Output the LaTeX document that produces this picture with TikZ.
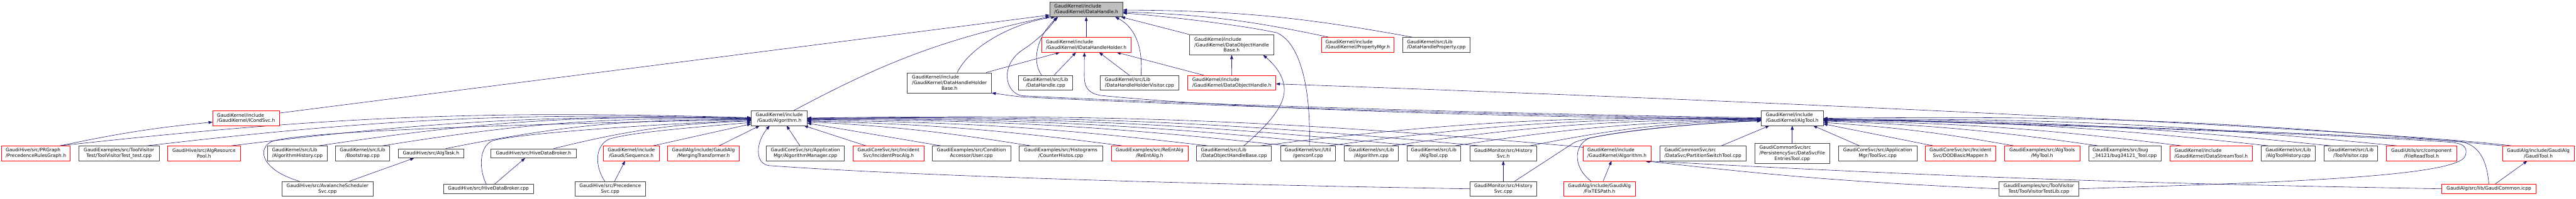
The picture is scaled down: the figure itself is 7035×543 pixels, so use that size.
\documentclass[tikz,border=0pt]{standalone}
\usepackage{fontspec}
\usepackage{tikz}
\usetikzlibrary{arrows.meta,backgrounds}
\newfontfamily\dxfont{DejaVu Sans}
\definecolor{dxedge}{HTML}{191970}
\definecolor{dxline}{HTML}{404040}
\definecolor{dxroot}{HTML}{BFBFBF}
\definecolor{dxtrunc}{HTML}{FF0000}
\tikzset{
  hdr/.style={rectangle,draw=dxline,line width=1pt,fill=white,inner sep=0pt,
              align=left,font=\dxfont\fontsize{12.8pt}{15pt}\selectfont,text=black},
  hdrtrunc/.style={hdr,draw=dxtrunc},
  hdrroot/.style={hdr,fill=dxroot},
  one/.style={minimum height=25pt},
  two/.style={minimum height=40.5pt},
  three/.style={minimum height=55pt},
  incl/.style={-{Triangle[length=11pt,width=8pt]},line width=1pt,draw=dxedge},
}

\begin{document}
\begin{tikzpicture}[x=1pt,y=-1pt]
  \useasboundingbox (0,0) rectangle (7035,543);
  % root and upper levels
  \node[hdrroot,two,minimum width=199pt] (dh) at (2966.5,25.5) {GaudiKernel/include\\\hfil/GaudiKernel/DataHandle.h};
  \node[hdrtrunc,two,minimum width=245pt] (idhh) at (2966.5,122.5) {GaudiKernel/include\\\hfil/GaudiKernel/IDataHandleHolder.h};
  \node[hdr,three,minimum width=229pt] (dohb) at (3363.5,122.5) {GaudiKernel/include\\/GaudiKernel/DataObjectHandle\\\hfil Base.h};
  \node[hdrtrunc,two,minimum width=198pt] (pmgr) at (3708,122.5) {GaudiKernel/include\\\hfil/GaudiKernel/PropertyMgr.h};
  \node[hdr,two,minimum width=183pt] (dhprop) at (3922.5,122.5) {GaudiKernel/src/Lib\\\hfil/DataHandleProperty.cpp};
  \node[hdr,three,minimum width=230pt] (dhhb) at (2593,226.5) {GaudiKernel/include\\/GaudiKernel/DataHandleHolder\\\hfil Base.h};
  \node[hdr,two,minimum width=147pt] (dhcpp) at (2855.5,226.5) {GaudiKernel/src/Lib\\\hfil/DataHandle.cpp};
  \node[hdr,two,minimum width=215pt] (dhhv) at (3112,226.5) {GaudiKernel/src/Lib\\\hfil/DataHandleHolderVisitor.cpp};
  \node[hdrtrunc,two,minimum width=240pt] (doh) at (3364,226.5) {GaudiKernel/include\\\hfil/GaudiKernel/DataObjectHandle.h};
  \node[hdrtrunc,two,minimum width=182pt] (icond) at (672,323) {GaudiKernel/include\\\hfil/GaudiKernel/ICondSvc.h};
  \node[hdr,two,minimum width=152pt] (galg) at (2128,323) {GaudiKernel/include\\\hfil/Gaudi/Algorithm.h};
  \node[hdr,two,minimum width=169pt] (algtool) at (4894.5,323) {GaudiKernel/include\\\hfil/GaudiKernel/AlgTool.h};
  % first row of includers
  \node[hdrtrunc,two,minimum width=187pt] (prg) at (98,419.5) {GaudiHive/src/PRGraph\\\hfil/PrecedenceRulesGraph.h};
  \node[hdr,two,minimum width=219pt] (tvtt) at (325,419.5) {GaudiExamples/src/ToolVisitor\\\hfil Test/ToolVisitorTest\_test.cpp};
  \node[hdrtrunc,two,minimum width=198pt] (arp) at (557,419.5) {GaudiHive/src/AlgResource\\\hfil Pool.h};
  \node[hdr,two,minimum width=163pt] (ahist) at (812,419.5) {GaudiKernel/src/Lib\\\hfil/AlgorithmHistory.cpp};
  \node[hdr,two,minimum width=147pt] (boot) at (990,419.5) {GaudiKernel/src/Lib\\\hfil/Bootstrap.cpp};
  \node[hdr,one,minimum width=179pt] (atask) at (1177,419.5) {GaudiHive/src/AlgTask.h};
  \node[hdr,one,minimum width=232pt] (hdbh) at (1457,419.5) {GaudiHive/src/HiveDataBroker.h};
  \node[hdrtrunc,two,minimum width=153pt] (seq) at (1724,419.5) {GaudiKernel/include\\\hfil/Gaudi/Sequence.h};
  \node[hdrtrunc,two,minimum width=195pt] (mtr) at (1921,419.5) {GaudiAlg/include/GaudiAlg\\\hfil/MergingTransformer.h};
  \node[hdr,two,minimum width=213pt] (amgr) at (2199.5,419.5) {GaudiCoreSvc/src/Application\\\hfil Mgr/AlgorithmManager.cpp};
  \node[hdrtrunc,two,minimum width=193pt] (ipa) at (2426.5,419.5) {GaudiCoreSvc/src/Incident\\\hfil Svc/IncidentProcAlg.h};
  \node[hdr,two,minimum width=213.5pt] (user) at (2653,419.5) {GaudiExamples/src/Condition\\\hfil Accessor/User.cpp};
  \node[hdr,two,minimum width=227pt] (chist) at (2897,419.5) {GaudiExamples/src/Histograms\\\hfil/CounterHistos.cpp};
  \node[hdrtrunc,two,minimum width=210pt] (reent) at (3139.5,419.5) {GaudiExamples/src/ReEntAlg\\\hfil/ReEntAlg.h};
  \node[hdr,two,minimum width=204.5pt] (dohbcpp) at (3370,419.5) {GaudiKernel/src/Lib\\\hfil/DataObjectHandleBase.cpp};
  \node[hdr,two,minimum width=150.5pt] (genconf) at (3572,419.5) {GaudiKernel/src/Util\\\hfil/genconf.cpp};
  \node[hdr,two,minimum width=148pt] (algcpp) at (3745,419.5) {GaudiKernel/src/Lib\\\hfil/Algorithm.cpp};
  \node[hdr,two,minimum width=147pt] (atcpp) at (3915.5,419.5) {GaudiKernel/src/Lib\\\hfil/AlgTool.cpp};
  \node[hdr,two,minimum width=183pt] (hsvch) at (4105.5,419.5) {GaudiMonitor/src/History\\\hfil Svc.h};
  \node[hdrtrunc,two,minimum width=185.5pt] (kalg) at (4416,419.5) {GaudiKernel/include\\\hfil/GaudiKernel/Algorithm.h};
  \node[hdr,two,minimum width=235pt] (pstool) at (4650.5,419.5) {GaudiCommonSvc/src\\\hfil/DataSvc/PartitionSwitchTool.cpp};
  \node[hdr,three,minimum width=204.6pt] (dsfet) at (4894.5,419.7) {GaudiCommonSvc/src\\/PersistencySvc/DataSvcFile\\\hfil EntriesTool.cpp};
  \node[hdr,two,minimum width=214pt] (toolsvc) at (5128,419.5) {GaudiCoreSvc/src/Application\\\hfil Mgr/ToolSvc.cpp};
  \node[hdrtrunc,two,minimum width=193pt] (dod) at (5354,419.5) {GaudiCoreSvc/src/Incident\\\hfil Svc/DODBasicMapper.h};
  \node[hdrtrunc,two,minimum width=205.5pt] (mytool) at (5577,419.5) {GaudiExamples/src/AlgTools\\\hfil/MyTool.h};
  \node[hdr,two,minimum width=198pt] (bug) at (5802.5,419.5) {GaudiExamples/src/bug\\\hfil\_34121/bug34121\_Tool.cpp};
  \node[hdrtrunc,two,minimum width=225.4pt] (dstool) at (6038.5,419.5) {GaudiKernel/include\\\hfil/GaudiKernel/DataStreamTool.h};
  \node[hdr,two,minimum width=146.5pt] (athist) at (6249,419.5) {GaudiKernel/src/Lib\\\hfil/AlgToolHistory.cpp};
  \node[hdr,two,minimum width=146.5pt] (tvis) at (6420,419.5) {GaudiKernel/src/Lib\\\hfil/ToolVisitor.cpp};
  \node[hdrtrunc,two,minimum width=191pt] (frt) at (6613,419.5) {GaudiUtils/src/component\\\hfil/FileReadTool.h};
  \node[hdrtrunc,two,minimum width=195pt] (gtool) at (6932,419.5) {GaudiAlg/include/GaudiAlg\\\hfil/GaudiTool.h};
  % second row of includers
  \node[hdr,two,minimum width=249pt] (ava) at (894.5,516.5) {GaudiHive/src/AvalancheScheduler\\\hfil Svc.cpp};
  \node[hdr,one,minimum width=247pt] (hdbcpp) at (1334,516.5) {GaudiHive/src/HiveDataBroker.cpp};
  \node[hdr,two,minimum width=193pt] (psvc) at (1666.5,516.5) {GaudiHive/src/Precedence\\\hfil Svc.cpp};
  \node[hdr,two,minimum width=183pt] (hsvccpp) at (4105.5,516.5) {GaudiMonitor/src/History\\\hfil Svc.cpp};
  \node[hdrtrunc,two,minimum width=195pt] (fixtes) at (4368,516.5) {GaudiAlg/include/GaudiAlg\\\hfil/FixTESPath.h};
  \node[hdr,two,minimum width=219pt] (tvtl) at (5568,516.5) {GaudiExamples/src/ToolVisitor\\\hfil Test/ToolVisitorTestLib.cpp};
  \node[hdrtrunc,one,minimum width=256.6pt] (gcommon) at (6797,516.5) {GaudiAlg/src/lib/GaudiCommon.icpp};

  \begin{scope}[on background layer]
  \fill[white] (0,0) rectangle (7035,543);
  % into DataHandle.h
  \draw[incl] (idhh) -- (dh);
  \draw[incl] ([xshift=21pt]dhhb.north) .. controls (2650,125) and (2770,62) .. ([xshift=15pt]dh.south west);
  \draw[incl] ([xshift=-11pt]dhcpp.north) .. controls (2815,165) and (2835,95) .. ([xshift=23pt]dh.south west);
  \draw[incl] ([xshift=4pt]dhhv.north) .. controls (3122,130) and (3100,75) .. ([xshift=-21pt]dh.south east);
  \draw[incl] (dohb.north west) -- ([xshift=-5pt]dh.south east);
  \draw[incl] ([yshift=-7pt]icond.north east) -- ([yshift=5pt]dh.south west);
  \draw[incl] ([xshift=40pt]galg.north) to[bend left=8] ([yshift=1pt]dh.south west);
  \draw[incl] ([xshift=-65pt]dhprop.north) to[bend right=5] ([yshift=-2pt]dh.east);
  \draw[incl] ([xshift=-79pt]pmgr.north) to[bend right=5] ([yshift=-7pt]dh.east);
  \draw[incl] ([xshift=4pt]genconf.north) .. controls (3580,230) and (3548,118) .. (3488,90) .. controls (3400,70) and (3200,46) .. ([yshift=-10pt]dh.east);
  \draw[incl] ([yshift=1pt]algtool.west) .. controls (4300,316) and (3300,288) .. (2792,262) .. controls (2745,256) and (2728,178) .. (2795,135) .. controls (2838,107) and (2872,70) .. ([xshift=19pt]dh.south west);
  \draw[incl] ([yshift=-1pt]algtool.west) .. controls (4300,320) and (3300,292) .. (2790,265) .. controls (2760,262) and (2735,258) .. (dhhb.south east);
  \draw[incl] ([yshift=-3pt]algtool.west) .. controls (4300,324) and (3400,302) .. (3005,261) .. controls (2968,254) and (2961,235) .. (2961,205) -- ([xshift=-5pt]idhh.south);
  % into IDataHandleHolder.h and DataObjectHandle(Base).h
  \draw[incl] ([xshift=23pt]dhcpp.north) -- ([xshift=-28pt]idhh.south);
  \draw[incl] ([xshift=-28pt]dhhv.north) -- ([xshift=35pt]idhh.south);
  \draw[incl] ([xshift=-77pt]doh.north) -- ([xshift=83pt]idhh.south);
  \draw[incl] ([xshift=100pt]dhhb.north) -- ([xshift=-72pt]idhh.south);
  \draw[incl] (doh) -- (dohb);
  \draw[incl] ([xshift=27pt]dohbcpp.north) .. controls (3470,335) and (3512,285) .. (3507,238) .. controls (3503,200) and (3475,172) .. ([xshift=-29pt]dohb.south east);
  \draw[incl] ([xshift=-74pt]gtool.north) .. controls (6600,365) and (5200,290) .. ([yshift=-3pt]doh.east);
  \draw[incl] ([xshift=66pt]prg.north) .. controls +(162,-34) and +(-162,16) .. ([yshift=-11pt]icond.west);
  % into Gaudi/Algorithm.h
  \draw[incl] ([xshift=66pt]prg.north) .. controls +(736,-81) and +(-736,-21) .. ([yshift=1pt]galg.west);
  \draw[incl] ([xshift=77pt]tvtt.north) .. controls +(644,-75) and +(-644,-15) .. (galg.west);
  \draw[incl] ([xshift=75pt]arp.north) .. controls +(554,-68) and +(-554,-10) .. ([yshift=-1pt]galg.west);
  \draw[incl] ([xshift=59pt]ahist.north) .. controls +(461,-69) and +(-461,-11) .. ([yshift=-2pt]galg.west);
  \draw[incl] ([xshift=55pt]boot.north) .. controls +(393,-63) and +(-393,-6) .. ([yshift=-3pt]galg.west);
  \draw[incl] ([xshift=40pt]atask.north) .. controls +(326,-65) and +(-326,-3) .. ([yshift=-5pt]galg.west);
  \draw[incl] ([xshift=55pt]hdbh.north) .. controls +(211,-52) and +(-211,8) .. ([yshift=-8pt]galg.west);
  \draw[incl] ([xshift=60pt]seq.north) -- ([yshift=-16pt]galg.west);
  \draw[incl] ([xshift=43pt]mtr.north) -- ([xshift=-53pt]galg.south);
  \draw[incl] ([xshift=-15pt]amgr.north) -- ([xshift=20pt]galg.south);
  \draw[incl] ([xshift=-62pt]ipa.north) -- ([xshift=-9pt]galg.south east);
  \draw[incl] ([xshift=-84pt]user.north) -- ([yshift=-14pt]galg.east);
  \draw[incl] ([xshift=-83pt]chist.north) .. controls +(-238,-38) and +(238,13) .. ([yshift=-10pt]galg.east);
  \draw[incl] ([xshift=-75pt]reent.north) .. controls +(-336,-44) and +(336,9) .. ([yshift=-8pt]galg.east);
  \draw[incl] ([xshift=-72pt]dohbcpp.north) .. controls +(-427,-50) and +(427,5) .. ([yshift=-6pt]galg.east);
  \draw[incl] ([xshift=-56pt]genconf.north) .. controls +(-512,-55) and +(512,1) .. ([yshift=-4pt]galg.east);
  \draw[incl] ([xshift=-54pt]algcpp.north) .. controls +(-580,-59) and +(580,-2) .. ([yshift=-3pt]galg.east);
  \draw[incl] ([xshift=-53pt]atcpp.north) .. controls +(-647,-63) and +(647,-5) .. ([yshift=-2pt]galg.east);
  \draw[incl] ([xshift=-67pt]hsvch.north) .. controls +(-715,-67) and +(715,-8) .. ([yshift=-1pt]galg.east);
  \draw[incl] ([yshift=-4pt]kalg.north west) .. controls +(-826,-74) and +(826,-12) .. (galg.east);
  \draw[incl] (hsvccpp.west) .. controls (3300,505) and (2500,482) .. (2100,453) .. controls (2062,448) and (2062,392) .. ([xshift=-26pt]galg.south);
  \draw[incl] ([xshift=60pt]ava.north) -- ([xshift=-46pt]atask.south);
  \draw[incl] ([xshift=-77pt]ava.north) .. controls (722,468) and (698,412) .. (740,388) .. controls (800,362) and (1300,342) .. ([yshift=-4pt]galg.west);
  \draw[incl] ([xshift=17pt]hdbcpp.north) -- ([xshift=-23pt]hdbh.south);
  \draw[incl] ([xshift=-6pt]hdbcpp.north) .. controls (1310,470) and (1305,402) .. (1345,385) .. controls (1420,365) and (1750,342) .. ([yshift=-6pt]galg.west);
  \draw[incl] ([xshift=12pt]psvc.north) -- ([xshift=-17pt]seq.south);
  \draw[incl] ([xshift=-15pt]psvc.north) .. controls (1626,458) and (1622,402) .. (1662,381) .. controls (1720,362) and (1900,348) .. ([yshift=-12pt]galg.west);
  \draw[incl] (hsvccpp) -- (hsvch);
  % into AlgTool.h
  \draw[incl] ([xshift=73pt]dohbcpp.north) .. controls +(533,-66) and +(-533,-8) .. ([yshift=-2pt]algtool.west);
  \draw[incl] ([xshift=57pt]genconf.north) .. controls +(461,-61) and +(-461,-4) .. ([yshift=-3pt]algtool.west);
  \draw[incl] ([xshift=56pt]algcpp.north) .. controls +(393,-56) and +(-393,0) .. ([yshift=-4pt]algtool.west);
  \draw[incl] ([xshift=58pt]atcpp.north) .. controls +(326,-50) and +(-326,5) .. ([yshift=-5pt]algtool.west);
  \draw[incl] ([xshift=73pt]hsvch.north) .. controls +(246,-49) and +(-246,6) .. ([yshift=-6pt]algtool.west);
  \draw[incl] ([xshift=31pt]hsvccpp.north) -- (4296,392) .. controls (4330,369) and (4600,338) .. ([yshift=-7pt]algtool.west);
  \draw[incl] ([xshift=-23pt]fixtes.north) .. controls (4296,458) and (4296,398) .. (4340,378) .. controls (4480,348) and (4700,334) .. ([yshift=-8pt]algtool.west);
  \draw[incl] ([xshift=51pt]pstool.north) -- ([xshift=-62pt]algtool.south);
  \draw[incl] (dsfet) -- (algtool);
  \draw[incl] ([xshift=-50pt]toolsvc.north) -- ([xshift=57pt]algtool.south);
  \draw[incl] ([xshift=-75pt]dod.north) -- ([yshift=-16pt]algtool.east);
  \draw[incl] ([xshift=-78pt]mytool.north) .. controls +(-203,-36) and +(203,14) .. ([yshift=-12pt]algtool.east);
  \draw[incl] ([xshift=-73pt]bug.north) .. controls +(-293,-42) and +(293,11) .. ([yshift=-8pt]algtool.east);
  \draw[incl] ([xshift=-81pt]dstool.north) .. controls +(-382,-47) and +(382,7) .. ([yshift=-7pt]algtool.east);
  \draw[incl] ([xshift=-55pt]athist.north) .. controls +(-474,-52) and +(474,2) .. ([yshift=-6pt]algtool.east);
  \draw[incl] ([xshift=-56pt]tvis.north) .. controls +(-540,-56) and +(540,0) .. ([yshift=-5pt]algtool.east);
  \draw[incl] ([xshift=-68pt]frt.north) .. controls +(-611,-60) and +(611,-4) .. ([yshift=-4pt]algtool.east);
  \draw[incl] ([xshift=-97pt]gtool.north) .. controls +(-724,-67) and +(724,-9) .. ([yshift=-1pt]algtool.east);
  \draw[incl] (gcommon.north) .. controls (6792,445) and (6775,398) .. (6720,387) .. controls (6300,360) and (5400,334) .. ([yshift=-2pt]algtool.east);
  \draw[incl] (tvtl.east) .. controls (6200,500) and (6720,485) .. (6733,425) .. controls (6740,400) and (6725,392) .. (6690,389) .. controls (6300,362) and (5400,336) .. ([yshift=-3pt]algtool.east);
  % into GaudiKernel/Algorithm.h and GaudiTool.h
  \draw[incl] ([xshift=10pt]fixtes.north) -- ([xshift=-15pt]kalg.south);
  \draw[incl] (tvtl.west) .. controls +(-377,-17) and +(377,43) .. ([xshift=-17pt]kalg.south east);
  \draw[incl] (gcommon.west) .. controls +(-848,-15) and +(848,45) .. ([xshift=-14pt]kalg.south east);
  \draw[incl] ([xshift=17pt]gcommon.north) -- ([xshift=-30pt]gtool.south);
  \end{scope}
\end{tikzpicture}
\end{document}
